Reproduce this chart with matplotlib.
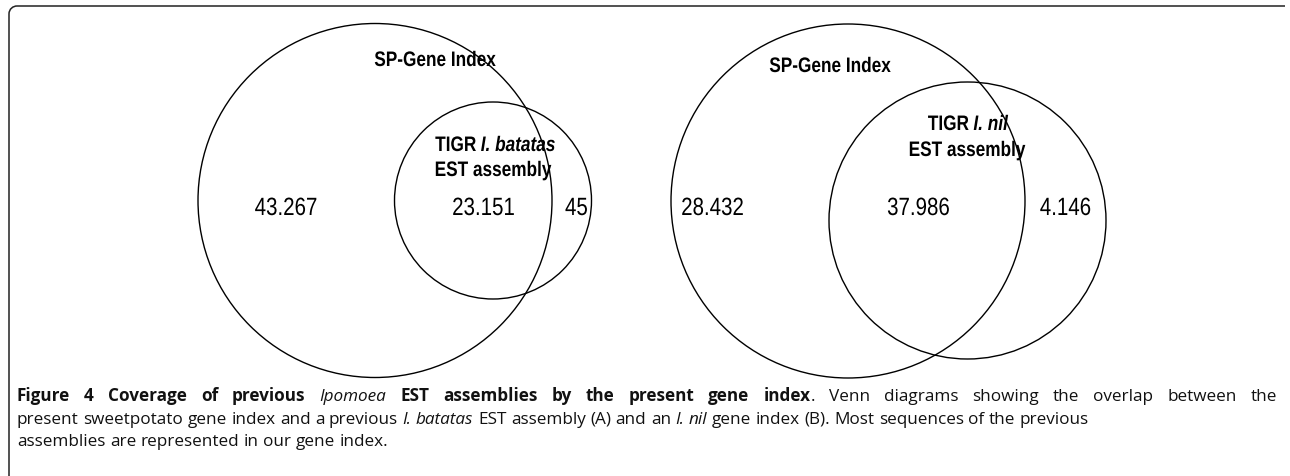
import matplotlib
matplotlib.use("Agg")
import matplotlib.pyplot as plt
from matplotlib.patches import Circle, PathPatch
from matplotlib.path import Path
from matplotlib.textpath import TextPath
from matplotlib.font_manager import FontProperties
from matplotlib.transforms import Affine2D

# Venn counts (thousands) for the two diagrams
left_counts = ["43.267", "23.151", "45"]
right_counts = ["28.432", "37.986", "4.146"]
big_label = "SP-Gene Index"
left_small_label = [("TIGR", "normal"), ("I. batatas", "italic")]
right_small_label = [("TIGR", "normal"), ("I. nil", "italic")]
second_line = "EST assembly"

caption = [
    [("Figure 4 Coverage of previous ", "bold", "normal"), ("Ipomoea", "normal", "italic"),
     (" EST assemblies by the present gene index", "bold", "normal"),
     (". Venn diagrams showing the overlap between the", "normal", "normal")],
    [("present sweetpotato gene index and a previous ", "normal", "normal"),
     ("I. batatas", "normal", "italic"),
     (" EST assembly (A) and an ", "normal", "normal"), ("I. nil", "normal", "italic"),
     (" gene index (B). Most sequences of the previous", "normal", "normal")],
    [("assemblies are represented in our gene index.", "normal", "normal")],
]

W, H = 1290, 477
fig = plt.figure(figsize=(W / 100, H / 100), dpi=100)
ax = fig.add_axes([0, 0, 1, 1])
ax.set_xlim(0, W)
ax.set_ylim(H, 0)
ax.axis("off")
renderer = fig.canvas.get_renderer()

cap_font = ["Open Sans", "DejaVu Sans"]
SQUEEZE = 0.82  # no Arial Narrow here, so squeeze Liberation Sans


def narrow_runs(x, y, runs, size, weight="bold", ha="center"):
    # runs: list of (text, style); words separated by one space
    paths = []
    for s, st in runs:
        prop = FontProperties(family="Liberation Sans", weight=weight, style=st)
        paths.append(TextPath((0, 0), s, size=size, prop=prop))
    space = 0.278 * size
    widths = [p.get_extents().x1 for p in paths]
    total = (sum(widths) + space * (len(paths) - 1)) * SQUEEZE
    cx = x - total / 2 if ha == "center" else x
    for p, w in zip(paths, widths):
        tr = Affine2D().scale(SQUEEZE, -1).translate(cx, y)
        ax.add_patch(PathPatch(tr.transform_path(p), facecolor="black", edgecolor="none", lw=0))
        cx += (w + space) * SQUEEZE


def text_width(s, **kw):
    t = ax.text(0, 0, s, **kw)
    w = t.get_window_extent(renderer).width
    t.remove()
    return w


def draw_runs(x, y, runs, family, size, justify=None):
    pieces = []
    pending = False
    for text, weight, style in runs:
        parts = text.split(" ")
        for i, p in enumerate(parts):
            if i > 0:
                pending = True
            if p:
                pieces.append((p, weight, style, pending and len(pieces) > 0))
                pending = False
    widths = [text_width(p, family=family, fontsize=size, fontweight=wt, fontstyle=st)
              for p, wt, st, _ in pieces]
    space = text_width("a a", family=family, fontsize=size) - text_width("aa", family=family, fontsize=size)
    n_sp = sum(1 for p in pieces if p[3])
    total = sum(widths) + n_sp * space
    gap = space
    if justify is not None and n_sp:
        gap = space + (justify - total) / n_sp
    cx = x
    for (p, wt, st, sp), w in zip(pieces, widths):
        if sp:
            cx += gap
        ax.text(cx, y, p, family=family, fontsize=size, fontweight=wt, fontstyle=st,
                ha="left", va="baseline", color="#111111")
        cx += w


# frame: left and top rule with rounded corner
verts = [(9, 480), (9, 15), (9, 10), (13, 7), (17, 7), (1285, 7)]
codes = [Path.MOVETO, Path.LINETO, Path.CURVE4, Path.CURVE4, Path.CURVE4, Path.LINETO]
ax.add_patch(PathPatch(Path(verts, codes), fill=False, lw=1.1, edgecolor="#222222"))

# circles
circles = [((375, 201.5), 177), ((493, 201.5), 98.5), ((848, 202), 177), ((967.5, 221.5), 138.5)]
for c, r in circles:
    ax.add_patch(Circle(c, r, fill=False, lw=1.0, edgecolor="black"))

NUM = 25   # px
LAB = 21   # px

# left diagram labels
narrow_runs(435, 67, [(big_label, "normal")], LAB)
narrow_runs(495, 152, left_small_label, LAB)
narrow_runs(493, 177, [(second_line, "normal")], LAB)
for xpos, val, ha in zip([285.5, 483, 565], left_counts, ["center", "center", "left"]):
    narrow_runs(xpos, 216, [(val, "normal")], NUM, weight="normal", ha=ha)

# right diagram labels
narrow_runs(830, 73, [(big_label, "normal")], LAB)
narrow_runs(968, 131, right_small_label, LAB)
narrow_runs(967, 157, [(second_line, "normal")], LAB)
for xpos, val in zip([712, 918, 1065], right_counts):
    narrow_runs(xpos, 216, [(val, "normal")], NUM, weight="normal")

# caption
draw_runs(17, 401, caption[0], cap_font, 12.35, justify=1260)
draw_runs(17, 424, caption[1], cap_font, 12.35)
draw_runs(17, 446, caption[2], cap_font, 12.35)

fig.savefig("out.png", dpi=100)
